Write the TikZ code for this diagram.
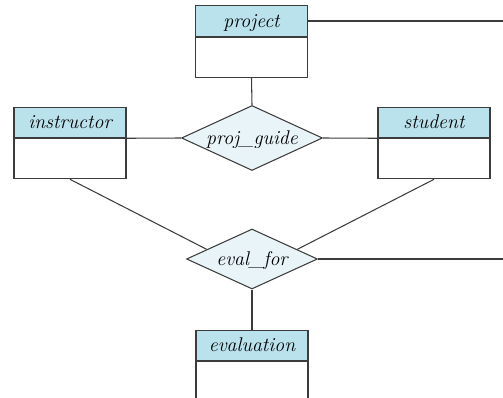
\documentclass[tikz,border=0pt]{standalone}
\usepackage{amsmath}
\usetikzlibrary{shapes.geometric,positioning}
\definecolor{headblue}{RGB}{186,226,236}
\definecolor{relblue}{RGB}{232,244,248}
\definecolor{edgegray}{RGB}{60,60,60}

\begin{document}
\begin{tikzpicture}[x=0.02cm,y=-0.02cm,
		erfont/.style={font=\fontsize{11.3}{13}\selectfont\itshape,text height=0.7em,text depth=0pt},
		enthead/.style={erfont,draw=edgegray,line width=0.6pt,fill=headblue,minimum width=2.24cm,minimum height=0.61cm,inner sep=0pt},
		entbody/.style={draw=edgegray,line width=0.6pt,fill=white,minimum width=2.24cm,minimum height=0.8cm,inner sep=0pt,below=0pt of #1},
		rel/.style={erfont,diamond,draw=edgegray,line width=0.6pt,fill=relblue,aspect=2.2,inner sep=0pt},
		link/.style={draw=edgegray,line width=0.6pt}]
				\clip (0,0) rectangle (503,398);
				\node[enthead] (project) at (251.5,21) {project};
				\node[entbody=project] (projectbody) {};
				\node[enthead] (instructor) at (70,122.5) {instructor};
				\node[entbody=instructor] (instructorbody) {};
				\node[enthead] (student) at (434,122.5) {student};
				\node[entbody=student] (studentbody) {};
				\node[enthead] (evaluation) at (252,345.5) {evaluation};
				\node[entbody=evaluation] (evaluationbody) {};
				\node[rel,minimum width=2.82cm,minimum height=1.3cm] (projguide) at (252,138) {proj\_guide};
				\node[rel,minimum width=2.62cm,minimum height=1.2cm] (evalfor) at (252,259) {eval\_for};
				\coordinate (projout) at (503,21);
				\coordinate (evalout) at (503,259);
				\draw[link] (project.east) -- (projout);
				\draw[link] (projectbody.south) -- (projguide.north);
				\draw[link] (instructor.south east) -- (projguide.west);
				\draw[link] (projguide.east) -- (student.south west);
				\draw[link] (instructorbody.south) -- (evalfor.168);
				\draw[link] (studentbody.south) -- (evalfor.12);
				\draw[link] (evalfor.east) -- (evalout);
				\draw[link] (evalfor.south) -- (evaluation.north);
			\end{tikzpicture}
\end{document}
